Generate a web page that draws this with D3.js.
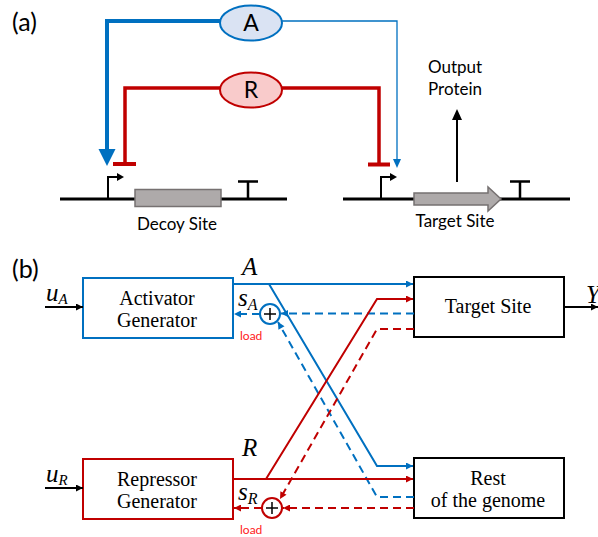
<!DOCTYPE html>
<html>
<head>
<meta charset="utf-8">
<script src="https://cdn.jsdelivr.net/npm/d3@7"></script>
<style>
  body { margin: 0; background: #fff; }
  svg { display: block; }
</style>
</head>
<body>
<div id="diagram"></div>
<script>
// Labels of the diagram
const panelLabels = ['(a)', '(b)'];
const regulators = ['A', 'R'];
const geneLabels = ['Decoy Site', 'Target Site'];
const outputLabel = ['Output', 'Protein'];
const generatorLabels = [['Activator', 'Generator'], ['Repressor', 'Generator']];
const sinkLabels = [['Target Site'], ['Rest', 'of the genome']];
const inputLabels = ['A', 'R'];

const svgWidth = 598;
const svgHeight = 537;
const blue = '#0070c0';
const red = '#c00000';
const sans = 'Lato, "Open Sans", sans-serif';
const serif = '"Liberation Serif", "DejaVu Serif", serif';

const svg = d3.select('#diagram')
  .append('svg')
  .attr('width', svgWidth)
  .attr('height', svgHeight);

// arrowhead markers
const defs = svg.append('defs');
[['black', '#000'], ['blue', blue], ['red', red]].forEach(([id, col]) => {
  defs.append('marker')
    .attr('id', 'arr-' + id)
    .attr('viewBox', '0 0 10 10')
    .attr('refX', 10).attr('refY', 5)
    .attr('markerWidth', 8).attr('markerHeight', 7)
    .attr('markerUnits', 'userSpaceOnUse')
    .attr('orient', 'auto')
    .append('path')
    .attr('d', 'M0,0 L10,5 L0,10 Z')
    .attr('fill', col);
});

// panel labels
svg.selectAll('text.panel')
  .data(panelLabels)
  .enter().append('text')
  .attr('class', 'panel')
  .attr('x', 12)
  .attr('y', (d, i) => i === 0 ? 31 : 278)
  .attr('font-family', sans)
  .attr('font-size', 25)
  .text(d => d);

// ---------------- panel (a) ----------------
const rowA = d3.scalePoint().domain(regulators).range([21, 88]);
const regColor = { A: blue, R: red };
const regFill = { A: '#dae3f3', R: '#f9cbcb' };
const ellX = 251, ellRx = 31;

const gA = svg.append('g');

// A: thick arrow to the decoy promoter, thin arrow to target promoter
gA.append('path')
  .attr('d', `M${ellX - ellRx},${rowA('A')} H107 V150`)
  .attr('fill', 'none').attr('stroke', blue).attr('stroke-width', 4);
gA.append('path')
  .attr('d', 'M98.5,149 L115.5,149 L107,166 Z')
  .attr('fill', blue);
gA.append('path')
  .attr('d', `M${ellX + ellRx},${rowA('A')} H397 V160`)
  .attr('fill', 'none').attr('stroke', blue).attr('stroke-width', 1.3);
gA.append('path')
  .attr('d', 'M393,159 L401,159 L397,168 Z')
  .attr('fill', blue);

// R: repression bars on both promoters
gA.append('path')
  .attr('d', `M${ellX - ellRx},${rowA('R')} H125 V164`)
  .attr('fill', 'none').attr('stroke', red).attr('stroke-width', 3.5);
gA.append('path')
  .attr('d', 'M113,164 H136')
  .attr('stroke', red).attr('stroke-width', 4);
gA.append('path')
  .attr('d', `M${ellX + ellRx},${rowA('R')} H379 V164`)
  .attr('fill', 'none').attr('stroke', red).attr('stroke-width', 3.5);
gA.append('path')
  .attr('d', 'M368,164.5 H390')
  .attr('stroke', red).attr('stroke-width', 4);

// protein ellipses
const prot = gA.selectAll('g.prot')
  .data(regulators)
  .enter().append('g')
  .attr('class', 'prot');
prot.append('ellipse')
  .attr('cx', ellX)
  .attr('cy', d => rowA(d) + 2)
  .attr('rx', ellRx).attr('ry', 17.5)
  .attr('fill', d => regFill[d])
  .attr('stroke', d => regColor[d])
  .attr('stroke-width', 2);
prot.append('text')
  .attr('x', ellX)
  .attr('y', d => rowA(d) + 10)
  .attr('text-anchor', 'middle')
  .attr('font-family', sans)
  .attr('font-size', 23)
  .text(d => d);

// DNA strands
const dnaY = 199;
const genes = [
  { label: geneLabels[0], x0: 60, x1: 287, prom: 108, term: 248, tx: 177, ty: 230 },
  { label: geneLabels[1], x0: 343, x1: 570, prom: 381, term: 520, tx: 455, ty: 227 }
];
genes.forEach((g, i) => {
  gA.append('path')
    .attr('d', `M${g.x0},${dnaY} H${g.x1}`)
    .attr('stroke', '#000').attr('stroke-width', 3);
  // promoter
  gA.append('path')
    .attr('d', `M${g.prom},${dnaY} V177 H${g.prom + 10}`)
    .attr('fill', 'none').attr('stroke', '#000').attr('stroke-width', 2);
  gA.append('path')
    .attr('d', `M${g.prom + 9},173 L${g.prom + 16},177 L${g.prom + 9},181 Z`)
    .attr('fill', '#000');
  // terminator
  gA.append('path')
    .attr('d', `M${g.term},${dnaY} V181.5 M${g.term - 10},181.5 H${g.term + 10}`)
    .attr('fill', 'none').attr('stroke', '#000').attr('stroke-width', 2.5);
  gA.append('text')
    .attr('x', g.tx).attr('y', g.ty)
    .attr('text-anchor', 'middle')
    .attr('font-family', sans)
    .attr('font-size', 17)
    .text(g.label);
});
// decoy box
gA.append('rect')
  .attr('x', 135).attr('y', 189.5)
  .attr('width', 86).attr('height', 17)
  .attr('fill', '#aeaaaa').attr('stroke', '#767171').attr('stroke-width', 1.5);
// target arrow gene
gA.append('path')
  .attr('d', 'M414,193 H488 V187 L501,199 L488,211 V205 H414 Z')
  .attr('fill', '#aeaaaa').attr('stroke', '#767171').attr('stroke-width', 1.5);

// output protein arrow
gA.append('path')
  .attr('d', 'M457,182 V118')
  .attr('stroke', '#000').attr('stroke-width', 2);
gA.append('path')
  .attr('d', 'M452,120 L462,120 L457,109 Z')
  .attr('fill', '#000');
gA.selectAll('text.out')
  .data(outputLabel)
  .enter().append('text')
  .attr('class', 'out')
  .attr('x', 455)
  .attr('y', (d, i) => 73 + i * 22)
  .attr('text-anchor', 'middle')
  .attr('font-family', sans)
  .attr('font-size', 17)
  .text(d => d);

// ---------------- panel (b) ----------------
const gB = svg.append('g');
const boxW = 150, boxH = 60;
const genX = 83, sinkX = 414;
const genY = d3.scaleOrdinal().domain(inputLabels).range([278, 459]);
const sinkY = [277, 458];

// generator boxes
generatorLabels.forEach((lines, i) => {
  const key = inputLabels[i];
  const col = regColor[key];
  gB.append('rect')
    .attr('x', genX).attr('y', genY(key))
    .attr('width', boxW).attr('height', boxH)
    .attr('fill', '#fff').attr('stroke', col).attr('stroke-width', 2);
  lines.forEach((t, j) => {
    gB.append('text')
      .attr('x', genX + boxW / 2 - 1)
      .attr('y', genY(key) + 27 + j * 22)
      .attr('text-anchor', 'middle')
      .attr('font-family', serif)
      .attr('font-size', 20)
      .text(t);
  });
  // input arrow u
  gB.append('path')
    .attr('d', `M45,${genY(key) + 29} H${genX}`)
    .attr('stroke', '#000').attr('stroke-width', 2)
    .attr('marker-end', 'url(#arr-black)');
  const u = gB.append('text')
    .attr('x', 46).attr('y', genY(key) + 23)
    .attr('font-family', serif).attr('font-style', 'italic')
    .attr('font-size', 25);
  u.append('tspan').text('u');
  u.append('tspan').attr('font-size', 15).attr('dy', 3).text(key);
});

// sink boxes
sinkLabels.forEach((lines, i) => {
  gB.append('rect')
    .attr('x', sinkX).attr('y', sinkY[i])
    .attr('width', boxW).attr('height', boxH)
    .attr('fill', '#fff').attr('stroke', '#000').attr('stroke-width', 2);
  lines.forEach((t, j) => {
    gB.append('text')
      .attr('x', sinkX + boxW / 2 - 1)
      .attr('y', lines.length === 1 ? sinkY[i] + 36 : sinkY[i] + 27 + j * 22)
      .attr('text-anchor', 'middle')
      .attr('font-family', serif)
      .attr('font-size', 20)
      .text(t);
  });
});

// output Y
gB.append('path')
  .attr('d', `M${sinkX + boxW},307 H598`)
  .attr('stroke', '#000').attr('stroke-width', 2)
  .attr('marker-end', 'url(#arr-black)');
gB.append('text')
  .attr('x', 586).attr('y', 303)
  .attr('font-family', serif).attr('font-style', 'italic')
  .attr('font-size', 25)
  .text('Y');

// signal wiring: solid = protein, dashed = load
const wires = [
  { c: 'blue', dash: false, d: 'M233,284 H413' },
  { c: 'blue', dash: false, d: 'M269,284 L377,466 H413' },
  { c: 'blue', dash: true, d: 'M414,313.5 H281' },
  { c: 'blue', dash: true, d: 'M260,314 H234' },
  { c: 'blue', dash: true, d: 'M414,497 H377 L278,322' },
  { c: 'red', dash: false, d: 'M233,479 H413' },
  { c: 'red', dash: false, d: 'M266,479 L377,299 H413' },
  { c: 'red', dash: true, d: 'M414,508 H283' },
  { c: 'red', dash: true, d: 'M262,508 H234' },
  { c: 'red', dash: true, d: 'M414,329 H377 L280,499' }
];
gB.selectAll('path.wire')
  .data(wires)
  .enter().append('path')
  .attr('class', 'wire')
  .attr('d', d => d.d)
  .attr('fill', 'none')
  .attr('stroke', d => d.c === 'blue' ? blue : red)
  .attr('stroke-width', 2)
  .attr('stroke-dasharray', d => d.dash ? '8,5' : null)
  .attr('marker-end', d => `url(#arr-${d.c})`);

// summing junctions
const sums = [
  { key: 'A', cx: 270, cy: 314 },
  { key: 'R', cx: 272, cy: 508 }
];
sums.forEach(s => {
  const col = regColor[s.key];
  gB.append('circle')
    .attr('cx', s.cx).attr('cy', s.cy).attr('r', 10)
    .attr('fill', '#fff').attr('stroke', col).attr('stroke-width', 2);
  gB.append('path')
    .attr('d', `M${s.cx - 6},${s.cy} H${s.cx + 6} M${s.cx},${s.cy - 6} V${s.cy + 6}`)
    .attr('stroke', '#000').attr('stroke-width', 1.5);
  gB.append('text')
    .attr('x', 240).attr('y', s.cy + 26)
    .attr('font-family', sans).attr('font-size', 12)
    .attr('fill', '#ff2020')
    .text('load');
  const sl = gB.append('text')
    .attr('x', 238).attr('y', s.cy - 8)
    .attr('font-family', serif).attr('font-style', 'italic')
    .attr('font-size', 25);
  sl.append('tspan').text('s');
  sl.append('tspan').attr('font-size', 16).attr('dy', 4).text(s.key);
  gB.append('text')
    .attr('x', 242).attr('y', genY(s.key) - 3)
    .attr('font-family', serif).attr('font-style', 'italic')
    .attr('font-size', 25)
    .text(s.key);
});
</script>
</body>
</html>
